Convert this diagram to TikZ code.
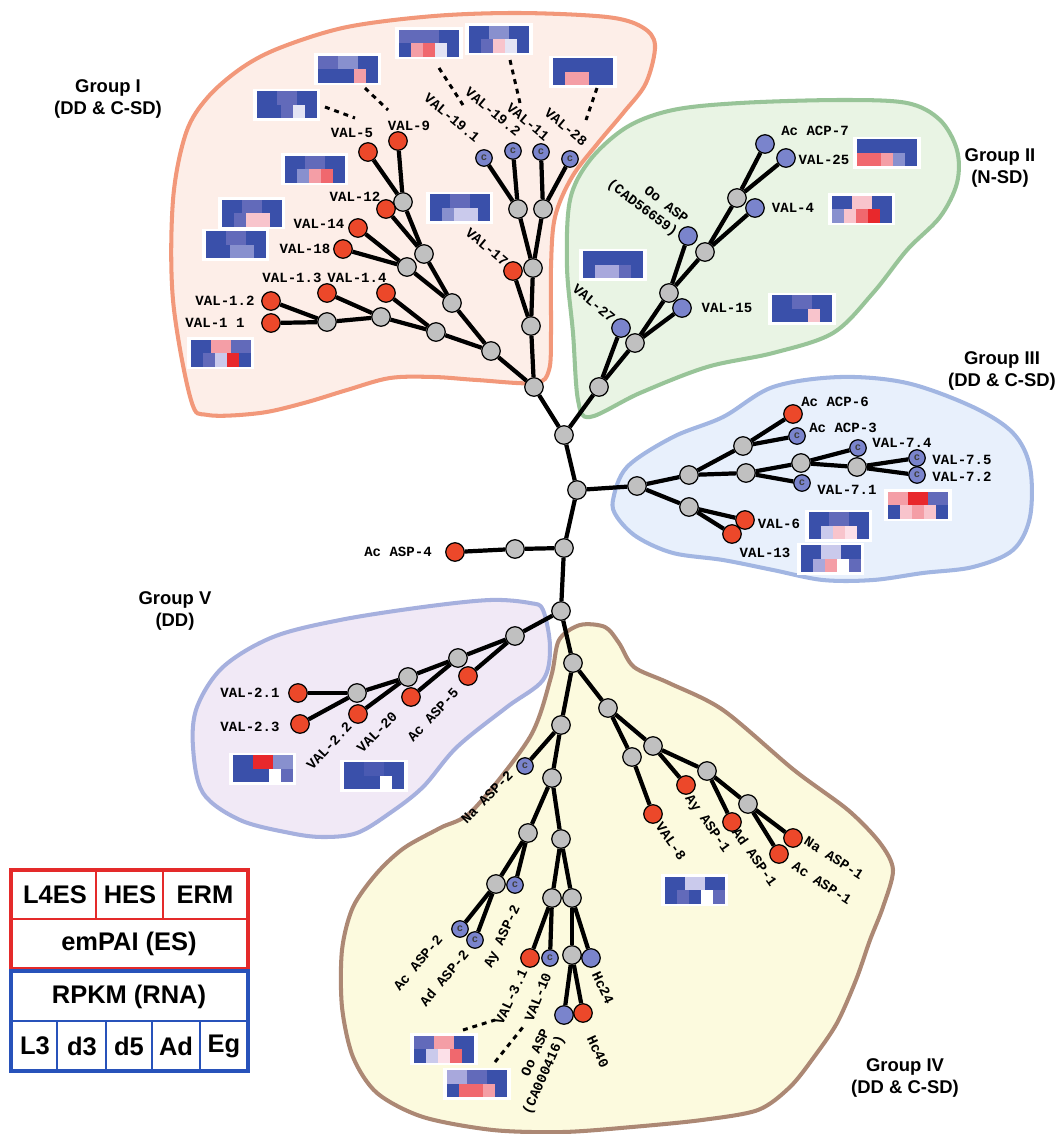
\documentclass[tikz,border=0pt]{standalone}
\usepackage{fontspec}
\setmainfont{Liberation Sans}
\newfontfamily\labfam{Liberation Mono}
\usepackage{tikz}
\usetikzlibrary{calc}
% tree colours
\definecolor{nodeGris}{RGB}{192,192,192}
\definecolor{leafRojo}{RGB}{236,72,42}
\definecolor{leafAzul}{RGB}{122,132,204}
% group outlines
\definecolor{gIline}{RGB}{242,152,122}
\definecolor{gIfill}{RGB}{253,238,232}
\definecolor{gIIline}{RGB}{152,196,152}
\definecolor{gIIfill}{RGB}{233,244,228}
\definecolor{gIIIline}{RGB}{162,182,226}
\definecolor{gIIIfill}{RGB}{232,240,252}
\definecolor{gVline}{RGB}{166,176,222}
\definecolor{gVfill}{RGB}{241,233,246}
\definecolor{gIVline}{RGB}{172,136,116}
\definecolor{gIVfill}{RGB}{252,250,222}
% heat map cells
\definecolor{hb}{RGB}{58,80,170}
\definecolor{hn}{RGB}{74,90,178}
\definecolor{hm}{RGB}{98,106,186}
\definecolor{hl}{RGB}{136,144,206}
\definecolor{hq}{RGB}{168,168,220}
\definecolor{hv}{RGB}{202,202,236}
\definecolor{hx}{RGB}{228,228,244}
\definecolor{hy}{RGB}{252,224,232}
\definecolor{hp}{RGB}{248,196,204}
\definecolor{hk}{RGB}{244,158,166}
\definecolor{hr}{RGB}{240,104,110}
\definecolor{hR}{RGB}{232,40,44}
\definecolor{hw}{RGB}{255,255,255}
% legend
\definecolor{legRojo}{RGB}{228,42,42}
\definecolor{legAzul}{RGB}{40,82,186}
\newcommand{\labfont}{\labfam\bfseries\fontsize{8}{9.5}\selectfont}
\newcommand{\grpfont}{\bfseries\fontsize{10.5}{12.5}\selectfont}
% heat map: name, centre, top row, bottom row
\newcommand{\hmap}[4]{%
  \node[hmframe] (#1) at (#2) {};
  \begin{scope}[shift={(#2)}]
    \foreach \hc [count=\i from 0] in {#3}
      \fill[fill=\hc] ({-30+20*\i},-13.5) rectangle ++(20,13.5);
    \foreach \hc [count=\i from 0] in {#4}
      \fill[fill=\hc] ({-30+12*\i},0) rectangle ++(12,13.5);
  \end{scope}}
\tikzset{
  inner/.style={circle, draw=black, fill=nodeGris, line width=0.7pt,
    minimum size=0.37cm, inner sep=0pt},
  redleaf/.style={inner, fill=leafRojo},
  blueleaf/.style={inner, fill=leafAzul},
  cleaf/.style={inner, fill=leafAzul, minimum size=0.33cm,
    font=\labfam\bfseries\fontsize{6}{6}\selectfont, text=black!75},
  edge/.style={line width=2.4pt},
  lab/.style={font=\labfont, inner sep=1pt},
  grp/.style={font=\grpfont, align=center},
  hmframe/.style={fill=white, minimum width=1.36cm, minimum height=0.64cm,
    inner sep=0pt},
  hmdash/.style={line width=1.7pt, dash pattern=on 2.8pt off 2.8pt},
  blob/.style={line width=2.3pt, line join=round},
  legtxt/.style={font=\bfseries\fontsize{14.5}{16}\selectfont, inner sep=0pt}
}
\begin{document}
\begin{tikzpicture}[x=0.02cm, y=-0.02cm]
  \useasboundingbox (0,0) rectangle (1059,1134);
  % Group outlines
  \draw[blob, draw=gIline, fill=gIfill] plot[smooth cycle, tension=0.55]
    coordinates {(191,400) (173,300) (173,200) (186,133) (208,97) (243,67)
    (282,47) (347,27) (434,16) (520,13) (607,17) (642,27) (655,45) (646,83)
    (624,112) (598,143) (572,177) (555,217) (551,267) (551,333) (549,370)
    (535,383) (477,380) (434,377) (390,378) (347,390) (304,403) (260,413)
    (208,415)};
  \draw[blob, draw=gIIline, fill=gIIfill] plot[smooth cycle, tension=0.55]
    coordinates {(627,127) (673,110) (740,103) (840,100) (907,103) (940,120)
    (957,150) (957,183) (940,217) (907,250) (873,293) (833,333) (773,353)
    (707,367) (640,393) (590,417) (578,400) (573,333) (567,267) (570,200)
    (590,160)};
  \draw[blob, draw=gIIIline, fill=gIIIfill] plot[smooth cycle, tension=0.55]
    coordinates {(613,500) (627,467) (673,437) (723,417) (773,387) (840,377)
    (907,383) (973,407) (1013,433) (1030,467) (1030,517) (1013,550)
    (973,567) (923,573) (873,580) (823,580) (773,570) (723,560) (673,553)
    (637,537) (617,517)};
  \draw[blob, draw=gVline, fill=gVfill] plot[smooth cycle, tension=0.55]
    coordinates {(543,610) (550,647) (543,680) (507,707) (457,747) (423,787)
    (390,813) (357,833) (323,837) (290,833) (240,820) (203,793) (193,747)
    (197,707) (223,667) (273,637) (340,620) (423,607) (490,600) (530,603)};
  \draw[blob, draw=gIVline, fill=gIVfill] plot[smooth cycle, tension=0.5]
    coordinates {(559,640) (580,625) (605,627) (619,643) (634,667) (669,683)
    (723,710) (794,770) (848,810) (880,843) (893,870) (883,907) (870,940)
    (856,980) (837,1023) (814,1057) (790,1087) (758,1110) (702,1120)
    (632,1127) (563,1132) (493,1130) (423,1117) (377,1093) (353,1057)
    (342,1007) (342,950) (353,907) (377,873) (404,848) (440,828) (473,810)
    (530,737) (551,677)};
  % Group labels
  \node[grp] (gI) at (108,99) {Group I\\(DD \& C-SD)};
  \node[grp] (gII) at (1000,168) {Group II\\(N-SD)};
  \node[grp] (gIII) at (1002,371) {Group III\\(DD \& C-SD)};
  \node[grp] (gV) at (175,611) {Group V\\(DD)};
  \node[grp] (gIV) at (905,1078) {Group IV\\(DD \& C-SD)};

  % Heat maps
  \hmap{hm1}{286.5,104.5}{hb,hm,hb}{hb,hb,hm,hx,hb}
  \hmap{hm2}{347.5,69}{hm,hl,hb}{hb,hb,hb,hk,hb}
  \hmap{hm3}{429,43}{hm,hm,hb}{hb,hk,hr,hx,hb}
  \hmap{hm4}{499,39}{hb,hl,hb}{hb,hm,hp,hx,hb}
  \hmap{hm5}{583,71.5}{hb,hb,hb}{hb,hk,hk,hb,hb}
  \hmap{hm6}{314.5,169}{hb,hm,hb}{hb,hl,hk,hr,hb}
  \hmap{hm7}{251.5,213}{hb,hm,hb}{hb,hm,hp,hp,hb}
  \hmap{hm8}{235.5,244.5}{hb,hm,hb}{hb,hb,hl,hl,hb}
  \hmap{hm9}{459.5,207.5}{hb,hm,hb}{hb,hl,hv,hv,hb}
  \hmap{hm10}{220.5,353}{hb,hk,hm}{hb,hm,hv,hR,hb}
  \hmap{hm11}{887,152.5}{hb,hb,hb}{hr,hr,hk,hl,hb}
  \hmap{hm12}{861.5,209}{hb,hp,hb}{hl,hp,hr,hR,hb}
  \hmap{hm13}{613,264.5}{hb,hb,hb}{hb,hq,hq,hm,hb}
  \hmap{hm14}{802,308.5}{hb,hm,hb}{hb,hb,hb,hp,hb}
  \hmap{hm15}{918,505}{hk,hR,hm}{hb,hp,hk,hp,hb}
  \hmap{hm16}{838.5,525.5}{hb,hm,hb}{hb,hv,hp,hy,hb}
  \hmap{hm17}{830.5,558.5}{hb,hv,hb}{hb,hq,hk,hw,hm}
  \hmap{hm18}{262.5,768.5}{hb,hR,hl}{hb,hb,hb,hw,hm}
  \hmap{hm19}{374,775.5}{hb,hn,hb}{hb,hb,hb,hw,hb}
  \hmap{hm20}{694.5,890}{hb,hv,hb}{hb,hm,hb,hw,hm}
  \hmap{hm21}{444,1049}{hm,hk,hb}{hb,hv,hy,hr,hb}
  \hmap{hm22}{477,1083.5}{hq,hm,hb}{hb,hr,hr,hk,hb}

  % Group I
  \node[inner] (g1) at (403,202) {};
  \node[inner] (g2) at (424,254) {};
  \node[inner] (g3) at (407,267) {};
  \node[inner] (g4) at (452,303) {};
  \node[inner] (g5) at (327,322) {};
  \node[inner] (g6) at (381,317) {};
  \node[inner] (g7) at (436,332) {};
  \node[inner] (g8) at (491,351) {};
  \node[inner] (g9) at (518,209) {};
  \node[inner] (g10) at (543,209) {};
  \node[inner] (g11) at (533,268) {};
  \node[inner] (g12) at (531,326) {};
  \node[inner] (r1) at (534,387) {};
  \node[redleaf] (val5) at (368,152) {};
  \node[redleaf] (val9) at (398,141) {};
  \node[redleaf] (val12) at (386,209) {};
  \node[redleaf] (val14) at (358,228) {};
  \node[redleaf] (val18) at (343,249) {};
  \node[redleaf] (val1x2) at (271,301) {};
  \node[redleaf] (val1x1) at (271,323) {};
  \node[redleaf] (val1x3) at (327,293) {};
  \node[redleaf] (val1x4) at (386,293) {};
  \node[redleaf] (val17) at (513,271) {};
  \node[cleaf] (val19x1) at (484,158) {c};
  \node[cleaf] (val19x2) at (513,151) {c};
  \node[cleaf] (val11) at (541,152) {c};
  \node[cleaf] (val28) at (570,159) {c};
  \node[lab] (l-val5) at (352,133) {VAL-5};
  \node[lab] (l-val9) at (409,126) {VAL-9};
  \node[lab] (l-val12) at (355,197) {VAL-12};
  \node[lab] (l-val14) at (319,224) {VAL-14};
  \node[lab] (l-val18) at (305,249) {VAL-18};
  \node[lab] (l-val1x3) at (292,278) {VAL-1.3};
  \node[lab] (l-val1x4) at (357,278) {VAL-1.4};
  \node[lab] (l-val1x2) at (225,301) {VAL-1.2};
  \node[lab] (l-val1x1) at (215,323) {VAL-1 1};
  \node[lab, rotate=-40] (l-val19x1) at (452,118) {VAL-19.1};
  \node[lab, rotate=-40] (l-val19x2) at (493,112) {VAL-19.2};
  \node[lab, rotate=-40] (l-val11) at (528,122) {VAL-11};
  \node[lab, rotate=-40] (l-val28) at (566,127) {VAL-28};
  \node[lab, rotate=-40] (l-val17) at (487,247) {VAL-17};

  % Group II
  \node[inner] (h1) at (737,198) {};
  \node[inner] (h2) at (705,252) {};
  \node[inner] (h3) at (669,293) {};
  \node[inner] (h4) at (635,343) {};
  \node[inner] (h5) at (599,387) {};
  \node[blueleaf] (acp7) at (765,144) {};
  \node[blueleaf] (val25) at (786,158) {};
  \node[blueleaf] (val4) at (755,208) {};
  \node[blueleaf] (ooasp) at (688,236) {};
  \node[blueleaf] (val15) at (682,308) {};
  \node[blueleaf] (val27) at (621,328) {};
  \node[lab] (l-acp7) at (815,131) {Ac ACP-7};
  \node[lab] (l-val25) at (824,160) {VAL-25};
  \node[lab] (l-val4) at (793,208) {VAL-4};
  \node[lab] (l-val15) at (727,308) {VAL-15};
  \node[lab, rotate=-40] (l-val27) at (594,303) {VAL-27};
  \node[lab, rotate=-37, align=right] (l-ooasp) at (647,202)
    {Oo ASP\\(CAD56659)};

  % Trunk
  \node[inner] (t1) at (564,435) {};
  \node[inner] (t2) at (577,490) {};
  \node[inner] (t3) at (564,548) {};
  \node[inner] (a1) at (515,549) {};
  \node[redleaf] (acasp4) at (455,552) {};
  \node[lab] (l-acasp4) at (398,552) {Ac ASP-4};
  \node[inner] (t4) at (561,611) {};
  \node[inner] (t5) at (573,663) {};

  % Group III
  \node[inner] (k1) at (637,486) {};
  \node[inner] (k2) at (689,475) {};
  \node[inner] (k3) at (743,446) {};
  \node[inner] (k4) at (746,473) {};
  \node[inner] (k5) at (801,463) {};
  \node[inner] (k6) at (857,467) {};
  \node[inner] (k7) at (689,507) {};
  \node[redleaf] (acp6) at (793,414) {};
  \node[cleaf] (acp3) at (797,436) {c};
  \node[cleaf] (val7x4) at (858,448) {c};
  \node[cleaf] (val7x5) at (917,458) {c};
  \node[cleaf] (val7x2) at (917,475) {c};
  \node[cleaf] (val7x1) at (802,483) {c};
  \node[redleaf] (val6) at (745,520) {};
  \node[redleaf] (val13) at (732,534) {};
  \node[lab] (l-acp6) at (835,402) {Ac ACP-6};
  \node[lab] (l-acp3) at (843,428) {Ac ACP-3};
  \node[lab] (l-val7x4) at (902,443) {VAL-7.4};
  \node[lab] (l-val7x5) at (962,460) {VAL-7.5};
  \node[lab] (l-val7x2) at (962,477) {VAL-7.2};
  \node[lab] (l-val7x1) at (847,490) {VAL-7.1};
  \node[lab] (l-val6) at (779,524) {VAL-6};
  \node[lab] (l-val13) at (765,553) {VAL-13};

  % Group V
  \node[inner] (v1) at (515,636) {};
  \node[inner] (v2) at (458,658) {};
  \node[inner] (v3) at (408,677) {};
  \node[inner] (v4) at (357,693) {};
  \node[redleaf] (acasp5) at (468,676) {};
  \node[redleaf] (val20) at (411,697) {};
  \node[redleaf] (val2x2) at (358,714) {};
  \node[redleaf] (val2x1) at (298,693) {};
  \node[redleaf] (val2x3) at (300,724) {};
  \node[lab] (l-val2x1) at (250,693) {VAL-2.1};
  \node[lab] (l-val2x3) at (250,727) {VAL-2.3};
  \node[lab, rotate=47] (l-val2x2) at (329,746) {VAL-2.2};
  \node[lab, rotate=45] (l-val20) at (377,732) {VAL-20};
  \node[lab, rotate=47] (l-acasp5) at (433,715) {Ac ASP-5};

  % Group IV
  \node[inner] (w1) at (561,725) {};
  \node[inner] (w2) at (608,708) {};
  \node[inner] (w3) at (552,778) {};
  \node[inner] (w4) at (528,833) {};
  \node[inner] (w5) at (561,839) {};
  \node[inner] (w6) at (496,884) {};
  \node[inner] (w7) at (552,898) {};
  \node[inner] (w8) at (572,898) {};
  \node[inner] (w9) at (572,955) {};
  \node[inner] (w10) at (653,746) {};
  \node[inner] (w11) at (632,757) {};
  \node[inner] (w12) at (707,771) {};
  \node[inner] (w13) at (748,804) {};
  \node[cleaf] (naasp2) at (525,766) {c};
  \node[cleaf] (ayasp2) at (515,885) {c};
  \node[cleaf] (acasp2) at (460,929) {c};
  \node[cleaf] (adasp2) at (475,940) {c};
  \node[redleaf] (val3x1) at (530,958) {};
  \node[cleaf] (val10) at (550,958) {c};
  \node[blueleaf] (hc24) at (591,958) {};
  \node[blueleaf] (ooasp2) at (564,1015) {};
  \node[redleaf] (hc40) at (583,1013) {};
  \node[redleaf] (val8) at (653,814) {};
  \node[redleaf] (ayasp1) at (686,785) {};
  \node[redleaf] (adasp1) at (732,822) {};
  \node[redleaf] (naasp1) at (793,838) {};
  \node[redleaf] (acasp1) at (779,854) {};
  \node[lab, rotate=46] (l-naasp2) at (487,797) {Na ASP-2};
  \node[lab, rotate=50] (l-acasp2) at (418,963) {Ac ASP-2};
  \node[lab, rotate=50] (l-adasp2) at (444,978) {Ad ASP-2};
  \node[lab, rotate=65] (l-ayasp2) at (503,937) {Ay ASP-2};
  \node[lab, rotate=65] (l-val3x1) at (511,997) {VAL-3.1};
  \node[lab, rotate=68] (l-val10) at (538,997) {VAL-10};
  \node[lab, rotate=66, align=right] (l-ooasp2) at (537,1072)
    {Oo ASP\\(CA000416)};
  \node[lab, rotate=-65] (l-hc24) at (603,988) {Hc24};
  \node[lab, rotate=-65] (l-hc40) at (598,1052) {Hc40};
  \node[lab, rotate=-55] (l-val8) at (671,841) {VAL-8};
  \node[lab, rotate=-55] (l-ayasp1) at (707,824) {Ay ASP-1};
  \node[lab, rotate=-55] (l-adasp1) at (755,857) {Ad ASP-1};
  \node[lab, rotate=-33] (l-naasp1) at (834,858) {Na ASP-1};
  \node[lab, rotate=-33] (l-acasp1) at (822,883) {Ac ASP-1};

  % Branches
  \foreach \a/\b in {val5/g1, val9/g1, g1/g2, val12/g2, g2/g4, val14/g3,
      val18/g3, g3/g4, g4/g8, val1x2/g5, val1x1/g5, g5/g6, val1x3/g6, g6/g7,
      val1x4/g7, g7/g8, g8/r1, val19x1/g9, val19x2/g9, val11/g10, val28/g10,
      g9/g11, g10/g11, g11/g12, val17/g12, g12/r1,
      acp7/h1, val25/h1, h1/h2, val4/h2, h2/h3, ooasp/h3, h3/h4, val15/h4,
      h4/h5, val27/h5, h5/t1,
      r1/t1, t1/t2, t2/k1, t2/t3, t3/a1, a1/acasp4, t3/t4, t4/v1, t4/t5,
      k1/k2, k1/k7, k2/k3, k2/k4, k3/acp6, k3/acp3, k4/k5, k4/val7x1,
      k5/val7x4, k5/k6, k6/val7x5, k6/val7x2, k7/val6, k7/val13,
      v1/v2, v1/acasp5, v2/v3, v2/val20, v3/v4, v3/val2x2, v4/val2x1,
      v4/val2x3,
      t5/w1, t5/w2, w1/naasp2, w1/w3, w3/w4, w3/w5, w4/w6, w4/ayasp2,
      w6/acasp2, w6/adasp2, w5/w7, w5/w8, w7/val3x1, w7/val10, w8/w9,
      w8/hc24, w9/ooasp2, w9/hc40, w2/w11, w11/val8, w2/w10, w10/ayasp1,
      w10/w12, w12/adasp1, w12/w13, w13/naasp1, w13/acasp1}
    \draw[edge] (\a) -- (\b);

  % Dashed pointers to heat maps
  \coordinate (p1a) at (325,107); \coordinate (p1b) at (355,118);
  \coordinate (p2a) at (365,88);  \coordinate (p2b) at (388,110);
  \coordinate (p3a) at (439,68);  \coordinate (p3b) at (463,105);
  \coordinate (p4a) at (510,60);  \coordinate (p4b) at (520,103);
  \coordinate (p5a) at (597,88);  \coordinate (p5b) at (586,120);
  \coordinate (p6a) at (463,1030); \coordinate (p6b) at (495,1020);
  \coordinate (p7a) at (495,1062); \coordinate (p7b) at (523,1027);
  \foreach \n in {1,...,7}
    \draw[hmdash] (p\n a) -- (p\n b);

  % Legend
  \draw[legRojo, line width=1.1pt] (11,919) -- (248,919)
    (96,870) -- (96,919) (163,870) -- (163,919);
  \draw[legRojo, line width=2.3pt] (11,870) rectangle (248,969);
  \draw[legAzul, line width=1.1pt] (11,1021) -- (248,1021)
    (57,1021) -- (57,1071) (106,1021) -- (106,1071)
    (152,1021) -- (152,1071) (200,1021) -- (200,1071);
  \draw[legAzul, line width=2.3pt] (11,971) rectangle (248,1071);
  \node[legtxt] (lg-l4es) at (55,895) {L4ES};
  \node[legtxt] (lg-hes) at (130,895) {HES};
  \node[legtxt] (lg-erm) at (205,895) {ERM};
  \node[legtxt] (lg-empai) at (129,944) {emPAI (ES)};
  \node[legtxt] (lg-rpkm) at (129,997) {RPKM (RNA)};
  \node[legtxt] (lg-l3) at (35,1046) {L3};
  \node[legtxt] (lg-d3) at (82,1046) {d3};
  \node[legtxt] (lg-d5) at (129,1046) {d5};
  \node[legtxt] (lg-ad) at (176,1046) {Ad};
  \node[legtxt] (lg-eg) at (224,1046) {Eg};
\end{tikzpicture}
\end{document}
